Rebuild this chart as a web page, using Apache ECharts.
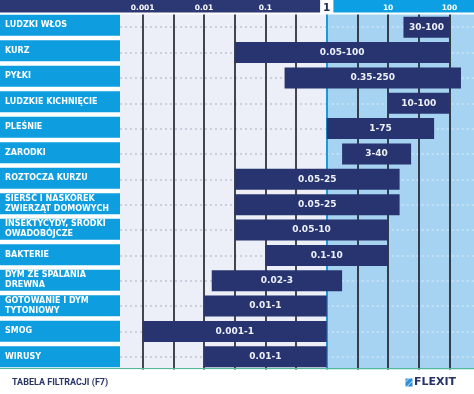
<!DOCTYPE html>
<html>
<head>
<meta charset="utf-8">
<script src="https://cdn.jsdelivr.net/npm/echarts@6/dist/echarts.min.js"></script>
<style>
    html, body { margin: 0; padding: 0; background: #fff; }
    #filter-chart { width: 474px; height: 394px; }
</style>
</head>
<body>
<div id="filter-chart"></div>
<script>
var categories = ['LUDZKI WŁOS', 'KURZ', 'PYŁKI', 'LUDZKIE KICHNIĘCIE', 'PLEŚNIE', 'ZARODKI', 'ROZTOCZA KURZU',
    'SIERŚĆ I NASKÓREK\nZWIERZĄT DOMOWYCH', 'INSEKTYCYDY, ŚRODKI\nOWADOBÓJCZE', 'BAKTERIE',
    'DYM ZE SPALANIA\nDREWNA', 'GOTOWANIE I DYM\nTYTONIOWY', 'SMOG', 'WIRUSY'];
var rangeLow = [30, 0.05, 0.35, 10, 1, 3, 0.05, 0.05, 0.05, 0.1, 0.02, 0.01, 0.001, 0.01];
var rangeHigh = [100, 100, 250, 100, 75, 40, 25, 25, 10, 10, 3, 1, 1, 1];
// grid lines of the table (1 - 5 - 10 steps, equally spaced)
var scaleSteps = [0.001, 0.005, 0.01, 0.05, 0.1, 0.5, 1, 5, 10, 50, 100, 500];
var tickValues = [0.001, 0.01, 0.1, 1, 10, 100];
var tickLabels = ['0.001', '0.01', '0.1', '1', '10', '100'];

var xMin = -0.74, xMax = 10.8;
var fontMain = 'DejaVu Sans';

// piecewise scale: each step of scaleSteps is one unit on the axis
function toScale(v) {
    for (var i = 0; i < scaleSteps.length - 1; i++) {
        if (v <= scaleSteps[i + 1]) {
            return i + (v - scaleSteps[i]) / (scaleSteps[i + 1] - scaleSteps[i]);
        }
    }
    return scaleSteps.length - 1;
}

var oneX = toScale(1);
var tickPos = tickValues.map(toScale);

var vLines = scaleSteps.filter(function (v) {
    return toScale(v) <= xMax;
}).map(function (v) {
    return {
        xAxis: toScale(v),
        lineStyle: v === 1 ? { color: '#1b9ad8', width: 2, type: 'solid' } : { color: '#0c0c14', width: 1.5, type: 'solid' }
    };
});

var dotLines = [];
categories.forEach(function (c, i) {
    dotLines.push([{ coord: [xMin, i], lineStyle: { color: '#c2c5d6' } }, { coord: [oneX, i] }]);
    dotLines.push([{ coord: [oneX, i], lineStyle: { color: '#cde5f7' } }, { coord: [xMax, i] }]);
});

var chart = echarts.init(document.getElementById('filter-chart'));

var option = {
    animation: false,
    title: {
        text: 'TABELA FILTRACJI (F7)',
        left: 12,
        top: 378,
        padding: 0,
        textStyle: { fontFamily: 'Roboto', fontSize: 9, fontWeight: 'bold', color: '#2a3568' }
    },
    grid: [
        { left: 0, width: 120, top: 12.5, height: 357 },
        { left: 120, right: 0, top: 12.5, height: 357 }
    ],
    xAxis: [
        { gridIndex: 0, type: 'value', min: 0, max: 1, show: false },
        {
            gridIndex: 1,
            type: 'value',
            position: 'top',
            min: xMin,
            max: xMax,
            axisLine: { show: false },
            axisTick: { show: false },
            splitLine: { show: false },
            axisLabel: {
                customValues: tickPos,
                margin: 6,
                verticalAlign: 'middle',
                color: '#fff',
                fontFamily: fontMain,
                fontSize: 7.5,
                fontWeight: 'bold',
                formatter: function (val) {
                    var k = 0, best = 99;
                    tickPos.forEach(function (p, j) {
                        if (Math.abs(p - val) < best) { best = Math.abs(p - val); k = j; }
                    });
                    if (tickValues[k] === 1) {
                        return '{one|' + tickLabels[k] + '}';
                    }
                    return tickLabels[k];
                },
                rich: {
                    one: {
                        backgroundColor: '#fff',
                        color: '#1f2a5e',
                        fontFamily: fontMain,
                        fontSize: 10.5,
                        padding: [3, 3, 3, 3]
                    }
                }
            }
        }
    ],
    yAxis: [
        { gridIndex: 0, type: 'category', inverse: true, data: categories, show: false },
        { gridIndex: 1, type: 'category', inverse: true, data: categories, show: false }
    ],
    series: [
        // category boxes on the left
        {
            type: 'bar',
            xAxisIndex: 0,
            yAxisIndex: 0,
            barWidth: 21,
            silent: true,
            itemStyle: { color: '#0e9ee0' },
            label: {
                show: true,
                position: 'insideLeft',
                distance: 5,
                formatter: '{b}',
                color: '#fff',
                fontFamily: fontMain,
                fontSize: 8,
                fontWeight: 'bold',
                lineHeight: 10
            },
            data: categories.map(function () { return 1; })
        },
        // zone backgrounds
        {
            type: 'line',
            xAxisIndex: 1,
            yAxisIndex: 1,
            data: [],
            z: 1,
            markArea: {
                silent: true,
                data: [
                    [{ xAxis: xMin, itemStyle: { color: '#eceef8' } }, { xAxis: oneX }],
                    [{ xAxis: oneX, itemStyle: { color: '#a7d3f2' } }, { xAxis: xMax }]
                ]
            }
        },
        // dotted row lines
        {
            type: 'line',
            xAxisIndex: 1,
            yAxisIndex: 1,
            data: [],
            z: 2,
            markLine: {
                silent: true,
                symbol: ['none', 'none'],
                label: { show: false },
                lineStyle: { type: [2, 3], width: 1.5 },
                data: dotLines
            }
        },
        // vertical step lines
        {
            type: 'line',
            xAxisIndex: 1,
            yAxisIndex: 1,
            data: [],
            z: 3,
            markLine: {
                silent: true,
                symbol: ['none', 'none'],
                label: { show: false },
                data: vLines
            }
        },
        // invisible base of the range bars
        {
            type: 'bar',
            xAxisIndex: 1,
            yAxisIndex: 1,
            stack: 'range',
            barWidth: 21,
            silent: true,
            z: 4,
            itemStyle: { color: 'transparent' },
            data: rangeLow.map(toScale)
        },
        // the ranges
        {
            type: 'bar',
            xAxisIndex: 1,
            yAxisIndex: 1,
            stack: 'range',
            barWidth: 21,
            z: 5,
            itemStyle: { color: '#27346f' },
            label: {
                show: true,
                position: 'inside',
                color: '#eef1fb',
                fontFamily: fontMain,
                fontSize: 9,
                fontWeight: 'bold',
                formatter: function (p) {
                    return rangeLow[p.dataIndex] + '-' + rangeHigh[p.dataIndex];
                }
            },
            data: rangeHigh.map(function (v, i) {
                return toScale(v) - toScale(rangeLow[i]);
            })
        }
    ]
};

chart.setOption(option);

// header band and footer bits, placed from the axis
var splitPx = chart.convertToPixel({ xAxisIndex: 1 }, oneX);
var gridBottom = 12.5 + 357;
chart.setOption({
    graphic: [
        { type: 'rect', z: -1, shape: { x: 0, y: 0, width: splitPx, height: 12.5 }, style: { fill: '#2c3873' } },
        { type: 'rect', z: -1, shape: { x: splitPx, y: 0, width: 474 - splitPx, height: 12.5 }, style: { fill: '#0c9fe3' } },
        { type: 'line', z: 10, shape: { x1: 0, y1: gridBottom - 1, x2: 474, y2: gridBottom - 1 }, style: { stroke: '#4fbb92', lineWidth: 1 } },
        { type: 'rect', shape: { x: 405.5, y: 378.5, width: 7, height: 8 }, style: { fill: '#2e8fd9' } },
        { type: 'line', shape: { x1: 405.5, y1: 382, x2: 409, y2: 378.5 }, style: { stroke: '#fff', lineWidth: 0.8 } },
        { type: 'line', shape: { x1: 407, y1: 386.5, x2: 412.5, y2: 381 }, style: { stroke: '#fff', lineWidth: 0.8 } },
        {
            type: 'text',
            x: 414,
            y: 382.5,
            style: { text: 'FLEXIT', fill: '#263268', font: 'bold 11px "DejaVu Sans"', textVerticalAlign: 'middle' }
        }
    ]
});
</script>
</body>
</html>
